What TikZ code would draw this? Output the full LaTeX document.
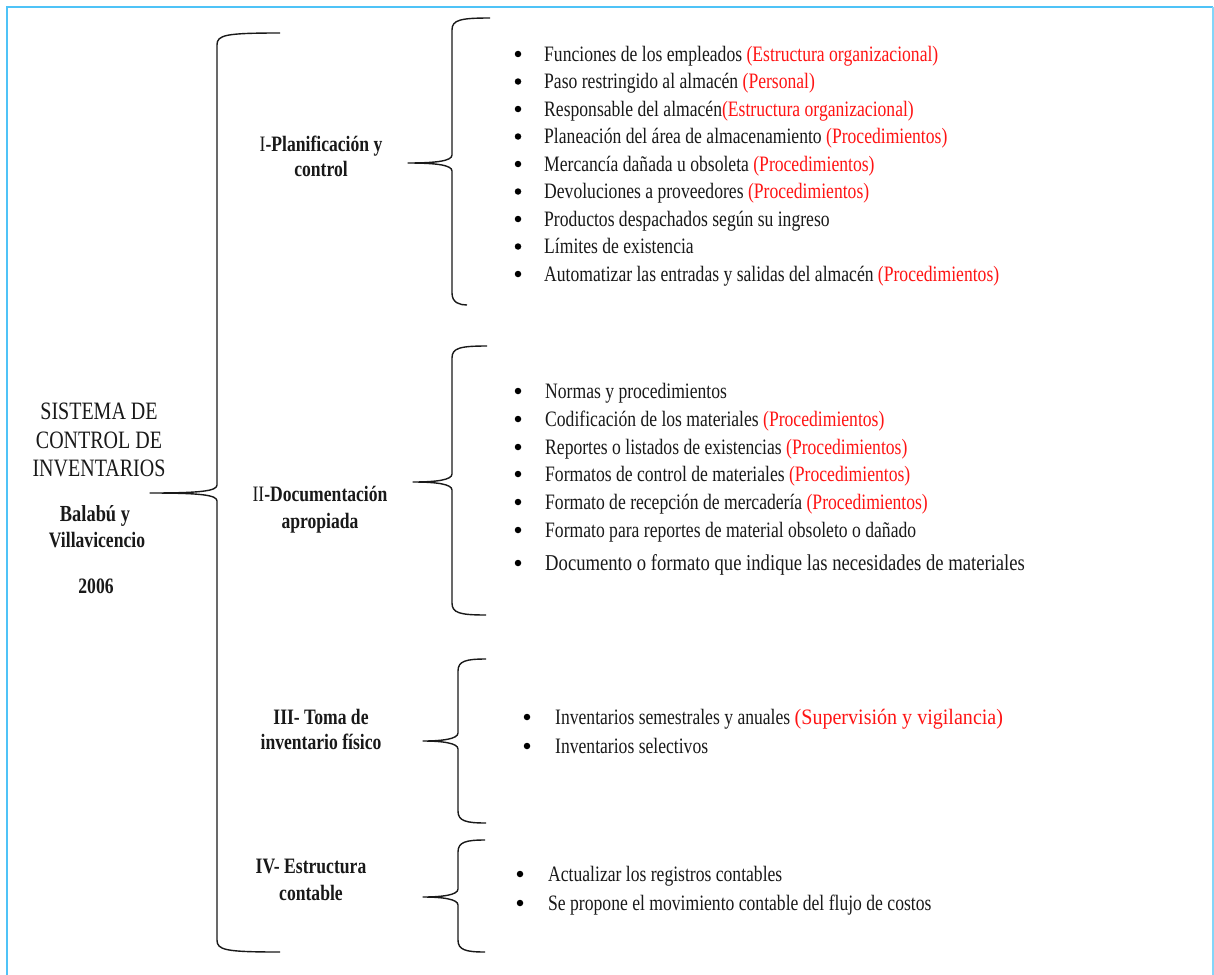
\documentclass[tikz,border=0pt]{standalone}
\usepackage{graphicx}
\usepackage{fontspec}
\setmainfont{Liberation Serif}[FakeStretch=0.80]
\definecolor{framecol}{RGB}{79,195,247}
\definecolor{inkcol}{RGB}{25,25,25}
\definecolor{notecol}{RGB}{255,20,20}

% curly brace: #1 spine x, #2 top y, #3 tip y, #4 bottom y, #5 tip x, #6 top end x, #7 bottom end x
\newcommand\curlybrace[7]{%
  \draw[bracestroke] (#6,#2) .. controls (#1+8,#2) and (#1,#2+2) .. (#1,#2+12)
    -- (#1,#3-8) .. controls (#1,#3-2) and (#1-16,#3) .. (#5,#3)
    .. controls (#1-16,#3) and (#1,#3+2) .. (#1,#3+8)
    -- (#1,#4-12) .. controls (#1,#4-2) and (#1+8,#4) .. (#7,#4);}
\newcommand\note[1]{\textcolor{notecol}{#1}}

\begin{document}
\begin{tikzpicture}[x=1pt,y=-1pt,
  bracestroke/.style={draw=inkcol,line width=1.4pt,line join=round},
  line/.style={anchor=base,inner sep=0pt,font=\fontsize{25}{30}\selectfont,text=inkcol},
  head/.style={anchor=base,inner sep=0pt,font=\bfseries\fontsize{22}{26}\selectfont,text=inkcol},
  item/.style={anchor=base west,inner sep=0pt,font=\fontsize{22}{26}\selectfont,text=inkcol},
  dot/.style={circle,fill=black,inner sep=0pt,minimum size=6.5pt}]
\useasboundingbox (0,0) rectangle (1214,974);
\fill[white] (0,0) rectangle (1214,974);

% outer frame
\draw[framecol,line width=2.4pt] (7,980) -- (7,7) -- (1213,7);
\draw[framecol!70,line width=1.2pt] (1213,7) -- (1213,980);

% main title
\node[line] (t1) at (99,419) {SISTEMA DE};
\node[line] (t2) at (99,448) {CONTROL DE};
\node[line] (t3) at (99,476) {INVENTARIOS};
\node[head,font=\bfseries\fontsize{23}{26}\selectfont] (a1) at (95,521) {Balabú y};
\node[head] (a2) at (97,547) {Villavicencio};
\node[head] (yr) at (96,593) {2006};

% big brace
\curlybrace{217}{33}{493}{952}{150}{280}{280}

% section headings
\node[head] (s1a) at (321,151) {{\mdseries I}-Planificación y};
\node[head] (s1b) at (321,176) {control};
\node[head] (s2a) at (320,501) {{\mdseries II}-Documentación};
\node[head] (s2b) at (320,528) {apropiada};
\node[head] (s3a) at (321,724) {III- Toma de};
\node[head] (s3b) at (321,749) {inventario físico};
\node[head] (s4a) at (311,873) {IV- Estructura};
\node[head] (s4b) at (311,900) {contable};

% section braces
\curlybrace{452}{18}{163}{305}{408}{490}{467}
\curlybrace{452}{346}{482}{615}{413}{487}{486}
\curlybrace{458}{659}{741}{823}{423}{486}{486}
\curlybrace{458}{840}{897}{952}{423}{485}{485}

% list I
\foreach \txt [count=\i] in {%
  {Funciones de los empleados \note{(Estructura organizacional)}},
  {Paso restringido al almacén \note{(Personal)}},
  {Responsable del almacén\note{(Estructura organizacional)}},
  {Planeación del área de almacenamiento \note{(Procedimientos)}},
  {Mercancía dañada u obsoleta \note{(Procedimientos)}},
  {Devoluciones a proveedores \note{(Procedimientos)}},
  {Productos despachados según su ingreso},
  {Límites de existencia},
  {Automatizar las entradas y salidas del almacén \note{(Procedimientos)}}}{
  \pgfmathsetmacro\yb{61+27.5*(\i-1)}
  \node[dot] (b1\i) at (518,\yb-7) {};
  \node[item] (p1\i) at (544,\yb) {\txt};
}

% list II
\foreach \txt/\yb [count=\i] in {%
  {Normas y procedimientos}/398,
  {Codificación de los materiales \note{(Procedimientos)}}/426,
  {Reportes o listados de existencias \note{(Procedimientos)}}/454,
  {Formatos de control de materiales \note{(Procedimientos)}}/481,
  {Formato de recepción de mercadería \note{(Procedimientos)}}/509,
  {Formato para reportes de material obsoleto o dañado}/537}{
  \node[dot] (b2\i) at (518,\yb-7) {};
  \node[item] (p2\i) at (545,\yb) {\txt};
}
\node[dot] (b27) at (518,563) {};
\node[item] (p27) at (545,570)
  {\scalebox{1.06}[1.03]{Documento o formato que indique las necesidades de materiales}};

% list III
\node[dot] (b31) at (527,717) {};
\node[item] (p31) at (555,724) {Inventarios semestrales y anuales
  \scalebox{1.14}[1]{\note{(Supervisión y vigilancia)}}};
\node[dot] (b32) at (527,746) {};
\node[item] (p32) at (555,753) {Inventarios selectivos};

% list IV
\node[dot] (b41) at (520,874) {};
\node[item] (p41) at (548,881) {Actualizar los registros contables};
\node[dot] (b42) at (520,903) {};
\node[item] (p42) at (548,910) {Se propone el movimiento contable del flujo de costos};
\end{tikzpicture}
\end{document}
